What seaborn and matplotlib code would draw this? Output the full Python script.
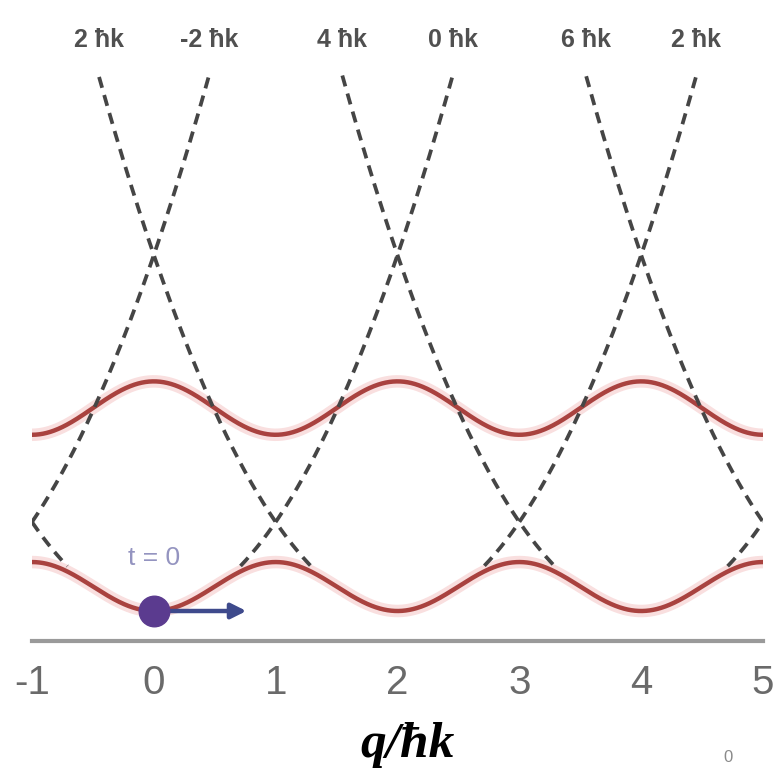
import numpy as np
import pandas as pd
import matplotlib
matplotlib.use("Agg")
import matplotlib.pyplot as plt
import seaborn as sns

# Quasi-momentum axis (units of ħk)
q_ticks = [-1, 0, 1, 2, 3, 4, 5]

# Free-particle parabolas E = (q - c)^2, centred on the momentum orders c
parabola_centers = [-2, 0, 2, 4, 6]
parabola_top = 6.02          # energy where dashed curves stop

# Labels at the upper ends of the dashed parabolas
top_labels = ["2 ħk", "-2 ħk", "4 ħk", "0 ħk", "6 ħk", "2 ħk"]
label_centers = [2, -2, 4, 0, 6, 2]
label_branch = [-1, 1, -1, 1, -1, 1]

# Lattice bands: energy at band extrema (lowest / highest point)
lower_band = [0.0, 0.55]
upper_band = [1.98, 2.58]

# Atom at t = 0
atom_q, atom_arrow_q = 0.0, 0.76

sns.set_style("white")
plt.rcParams["font.family"] = ["Liberation Sans", "DejaVu Sans"]

fig = plt.figure(figsize=(7.76, 7.72), dpi=100)
ax = fig.add_axes([32 / 776, 1 - 641 / 772, (763 - 32) / 776, 641 / 772])
ax.set_xlim(q_ticks[0], q_ticks[-1])
ax.set_ylim(-0.337, 6.865)

q = np.linspace(q_ticks[0], q_ticks[-1], 1200)


def band(lo_hi, qq, even_max):
    lo, hi = lo_hi
    mid, amp = (lo + hi) / 2, (hi - lo) / 2
    return mid + amp * np.cos(np.pi * qq) * (1 if even_max else -1)


e_low = band(lower_band, q, even_max=False)
e_up = band(upper_band, q, even_max=True)

bands = pd.concat([
    pd.DataFrame({"q": q, "E": e_low, "band": "lower"}),
    pd.DataFrame({"q": q, "E": e_up, "band": "upper"}),
])

# soft halo under the band lines
sns.lineplot(data=bands, x="q", y="E", units="band", estimator=None,
             color="#f2b8b8", lw=9, alpha=0.45, ax=ax, legend=False)
sns.lineplot(data=bands, x="q", y="E", units="band", estimator=None,
             color="#a9423f", lw=3.2, ax=ax, legend=False)

# dashed free-particle parabolas, shown above the lower band
segments = []
seg_id = 0
for c in parabola_centers:
    e = (q - c) ** 2
    keep = (e <= parabola_top) & (e >= e_low + 0.06)
    idx = np.where(keep)[0]
    if idx.size == 0:
        continue
    splits = np.split(idx, np.where(np.diff(idx) > 1)[0] + 1)
    for s in splits:
        segments.append(pd.DataFrame({"q": q[s], "E": e[s], "seg": seg_id}))
        seg_id += 1
dashed = pd.concat(segments)
for sid, d in dashed.groupby("seg"):
    sns.lineplot(data=d, x="q", y="E", color="#454545", lw=2.7,
                 ax=ax, legend=False, estimator=None, sort=False
                 ).lines[-1].set_dashes([3.0, 2.0])

# momentum labels above the parabolas
for lab, c, side in zip(top_labels, label_centers, label_branch):
    ql = c + side * np.sqrt(parabola_top)
    ax.text(ql, 6.42, lab, ha="center", va="center", fontsize=18,
            color="#505050", fontweight="bold", clip_on=False)

# atom and its velocity arrow
ax.annotate("", xy=(atom_arrow_q, 0.0), xytext=(atom_q, 0.0),
            arrowprops=dict(arrowstyle="-|>,head_length=0.9,head_width=0.45",
                            color="#3e4a8c", lw=3.2, shrinkA=0, shrinkB=0))
ax.plot([atom_q], [0.0], "o", ms=22, color="#5b3b8f", zorder=5)
ax.text(atom_q, 0.6, "t = 0", ha="center", va="center", fontsize=19,
        color="#9494c0")

# axis styling
for s in ["left", "top", "right"]:
    ax.spines[s].set_visible(False)
ax.spines["bottom"].set_color("#9a9a9a")
ax.spines["bottom"].set_linewidth(3)
ax.set_yticks([])
ax.set_ylabel("")
ax.set_xlabel("")
ax.set_xticks(q_ticks)
ax.set_xticklabels([str(t) for t in q_ticks])
ax.tick_params(axis="x", direction="inout", length=7, width=2,
               color="#666666", labelsize=29, labelcolor="#6a6a6a", pad=13)

fig.text(408 / 776, 1 - 757 / 772, "q/ħk", ha="center", va="baseline",
         fontsize=37, fontweight="bold", fontstyle="italic",
         family=["Liberation Serif", "DejaVu Serif"], color="black")
fig.text(728 / 776, 1 - 757 / 772, "0", ha="center", va="center",
         fontsize=12, color="#8a8a8a")

fig.savefig("out.png", dpi=100)
